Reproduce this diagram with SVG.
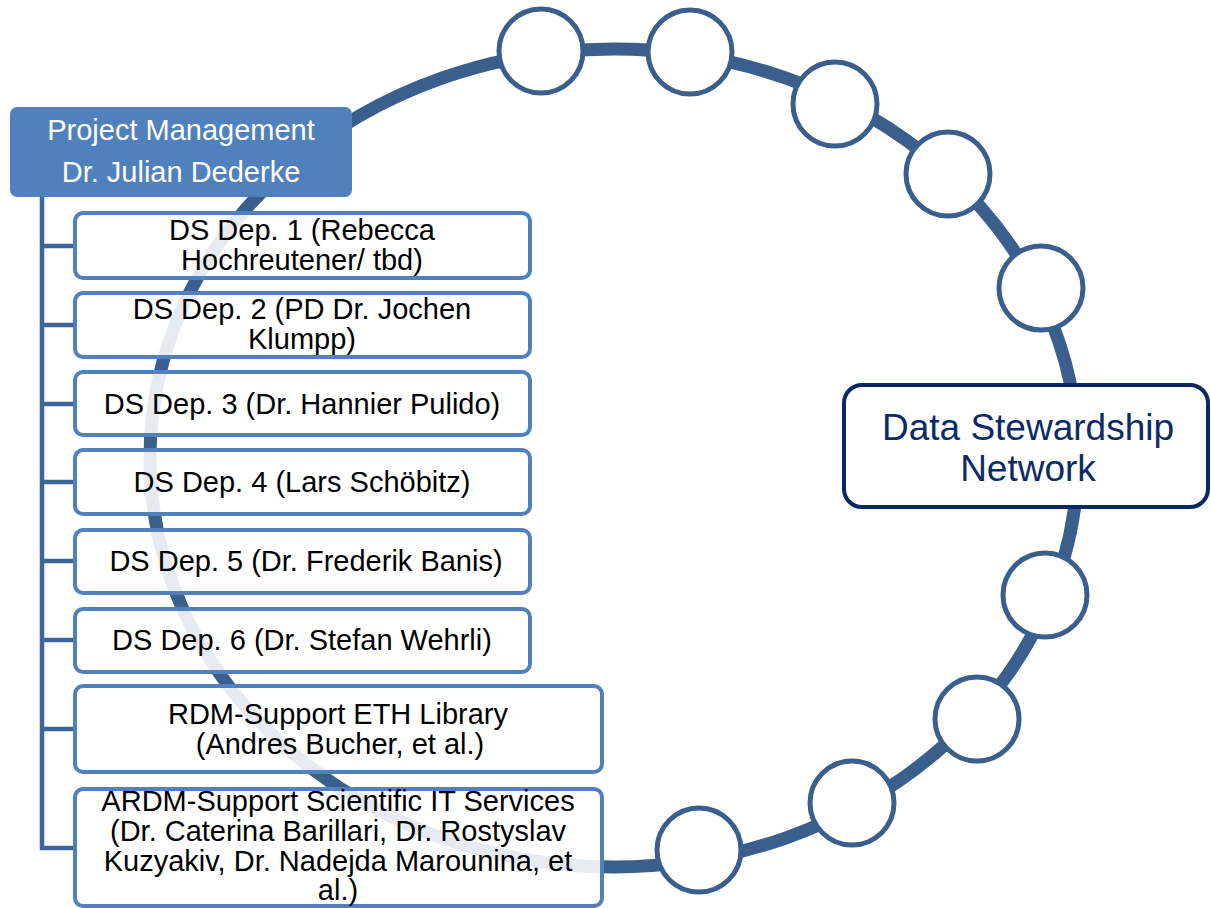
<svg xmlns="http://www.w3.org/2000/svg" width="1211" height="908" viewBox="0 0 1211 908">
<style>
.ring{fill:none;stroke:#3a5f8c;stroke-width:13}
.dot{fill:#ffffff;stroke:#3a5f8c;stroke-width:5}
.conn{fill:none;stroke:#3d6597;stroke-width:4.5}
.box{fill:#ffffff;fill-opacity:0.88;stroke:#5081bd;stroke-width:4}
.t{font-family:"Liberation Sans",Arial,sans-serif;font-size:29px;fill:#000000;text-anchor:middle}
.pm{font-family:"Liberation Sans",Arial,sans-serif;font-size:29px;fill:#ffffff;text-anchor:middle}
.dsn{font-family:"Liberation Sans",Arial,sans-serif;font-size:37px;fill:#0b2a66;text-anchor:middle}
</style>
<rect width="1211" height="908" fill="#ffffff"/>
<g id="ring">
<ellipse class="ring" cx="614" cy="458" rx="464" ry="409"/>
</g>
<g id="network-nodes">
<circle class="dot" cx="541" cy="51" r="42"/>
<circle class="dot" cx="690" cy="52" r="42"/>
<circle class="dot" cx="835" cy="104" r="42"/>
<circle class="dot" cx="948" cy="174" r="42"/>
<circle class="dot" cx="1041" cy="288" r="42"/>
<circle class="dot" cx="1045" cy="595" r="42"/>
<circle class="dot" cx="977" cy="719" r="42"/>
<circle class="dot" cx="852" cy="803" r="42"/>
<circle class="dot" cx="699" cy="850" r="42"/>
</g>
<g id="connectors">
<polyline class="conn" points="42,197 42,848 75,848"/>
<line class="conn" x1="42" y1="246" x2="75" y2="246"/>
<line class="conn" x1="42" y1="325" x2="75" y2="325"/>
<line class="conn" x1="42" y1="404" x2="75" y2="404"/>
<line class="conn" x1="42" y1="482" x2="75" y2="482"/>
<line class="conn" x1="42" y1="561" x2="75" y2="561"/>
<line class="conn" x1="42" y1="640" x2="75" y2="640"/>
<line class="conn" x1="42" y1="729" x2="75" y2="729"/>
</g>
<g id="project-management">
<rect x="10" y="107" width="342" height="90" rx="7" fill="#5081bd"/>
<text class="pm" x="181" y="140">Project Management</text>
<text class="pm" x="181" y="182">Dr. Julian Dederke</text>
</g>
<g id="ds-dep-1">
<rect class="box" x="75" y="213" width="455" height="65" rx="8"/>
<text class="t" x="302" y="240">DS Dep. 1 (Rebecca</text>
<text class="t" x="302" y="270">Hochreutener/ tbd)</text>
</g>
<g id="ds-dep-2">
<rect class="box" x="75" y="293" width="455" height="64" rx="8"/>
<text class="t" x="302" y="319">DS Dep. 2 (PD Dr. Jochen</text>
<text class="t" x="302" y="349">Klumpp)</text>
</g>
<g id="ds-dep-3">
<rect class="box" x="75" y="372" width="455" height="63" rx="8"/>
<text class="t" x="302" y="414">DS Dep. 3 (Dr. Hannier Pulido)</text>
</g>
<g id="ds-dep-4">
<rect class="box" x="75" y="450" width="455" height="64" rx="8"/>
<text class="t" x="302" y="492">DS Dep. 4 (Lars Schöbitz)</text>
</g>
<g id="ds-dep-5">
<rect class="box" x="75" y="530" width="455" height="63" rx="8"/>
<text class="t" x="306" y="571">DS Dep. 5 (Dr. Frederik Banis)</text>
</g>
<g id="ds-dep-6">
<rect class="box" x="75" y="609" width="455" height="63" rx="8"/>
<text class="t" x="302" y="650">DS Dep. 6 (Dr. Stefan Wehrli)</text>
</g>
<g id="rdm-eth-library">
<rect class="box" x="75" y="686" width="527" height="86" rx="8"/>
<text class="t" x="338" y="724">RDM-Support ETH Library</text>
<text class="t" x="340" y="754">(Andres Bucher, et al.)</text>
</g>
<g id="ardm-sis">
<rect class="box" x="75" y="789" width="527" height="117" rx="8"/>
<text class="t" x="338" y="811">ARDM-Support Scientific IT Services</text>
<text class="t" x="338" y="841">(Dr. Caterina Barillari, Dr. Rostyslav</text>
<text class="t" x="338" y="871">Kuzyakiv, Dr. Nadejda Marounina, et</text>
<text class="t" x="338" y="900">al.)</text>
</g>
<g id="data-stewardship-network">
<rect x="844" y="385" width="364" height="122" rx="18" fill="#ffffff" stroke="#0b2766" stroke-width="4"/>
<text class="dsn" x="1028" y="440">Data Stewardship</text>
<text class="dsn" x="1028" y="481">Network</text>
</g>
</svg>
